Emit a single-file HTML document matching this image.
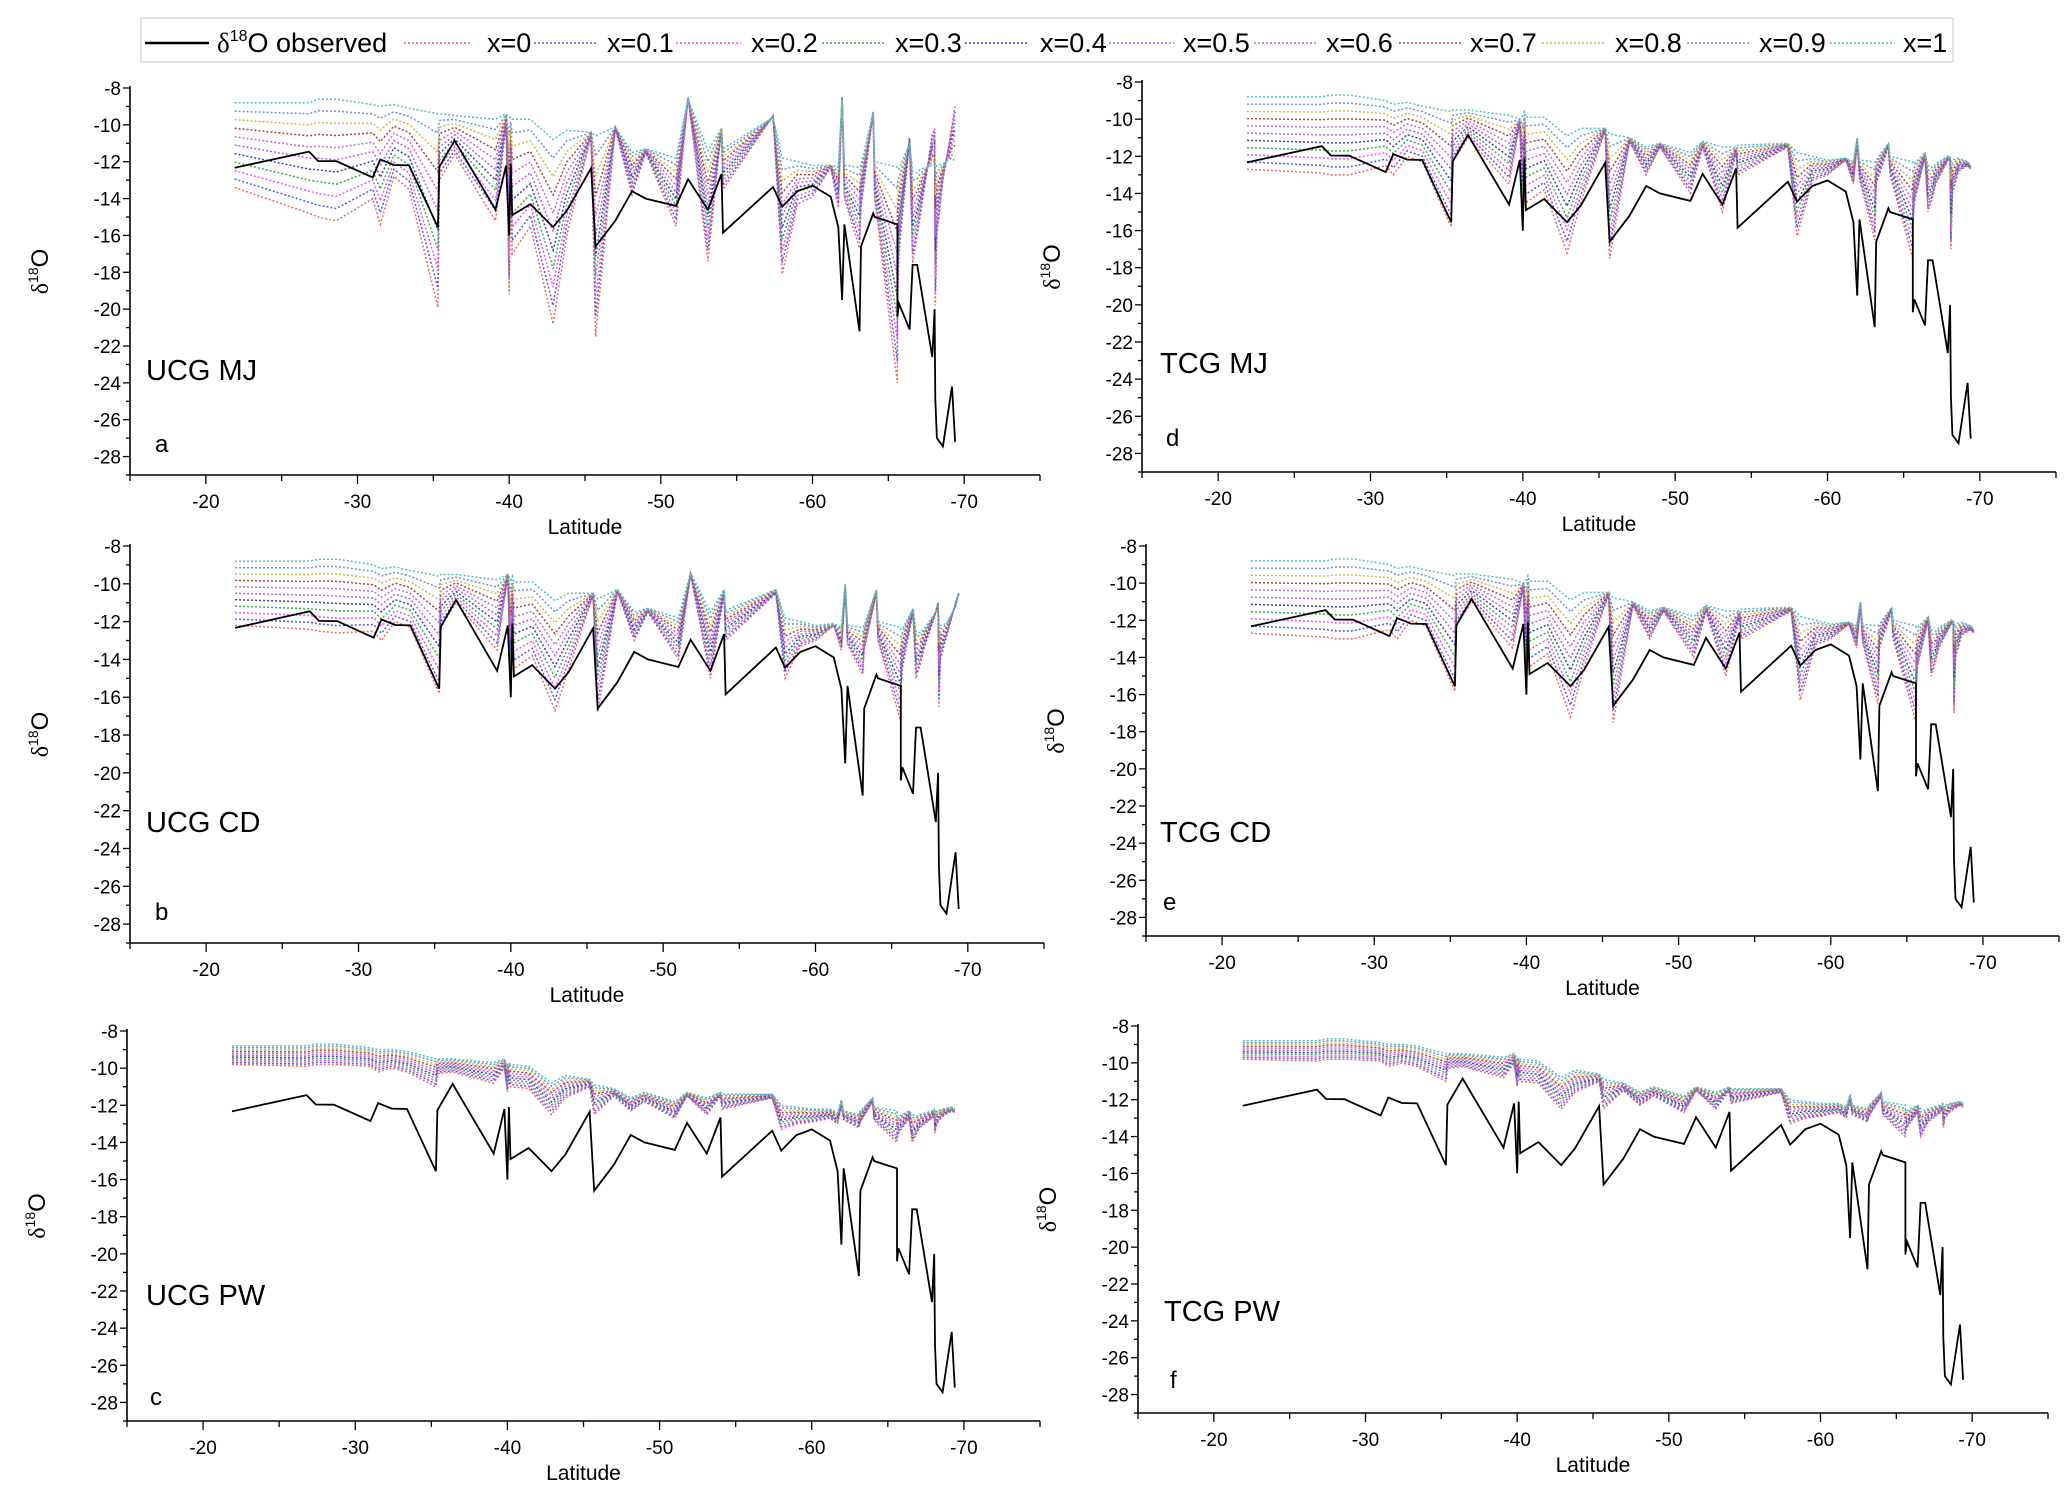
<!DOCTYPE html>
<html><head><meta charset="utf-8"><style>
html,body{margin:0;padding:0;background:#fff;}
svg{display:block;font-family:"Liberation Sans",Arial,sans-serif;}
</style></head><body>
<svg id="chart" width="2067" height="1492" viewBox="0 0 2067 1492" xmlns="http://www.w3.org/2000/svg">
<g id="legend">
<rect x="141" y="18" width="1812" height="44" fill="#fff" stroke="#d8d8d8" stroke-width="1.5"/>
</g>
<g id="panels"></g>
</svg>
<script>
// ---- data ----
const lats = [-21.9,-26.8,-27.4,-28.6,-31.0,-31.5,-32.4,-33.4,-35.3,-35.4,-36.4,-39.1,-39.8,-40.0,-40.1,-40.2,-41.4,-42.9,-43.8,-45.4,-45.7,-47.0,-48.1,-49.0,-51.0,-51.8,-53.1,-54.0,-54.1,-57.4,-58.0,-59.0,-60.0,-61.2,-61.7,-61.95,-62.1,-63.1,-63.2,-64.0,-64.1,-65.6,-65.6,-65.7,-66.4,-66.6,-66.9,-67.1,-67.9,-68.05,-68.1,-68.2,-68.6,-69.2,-69.4];
const observed = [-12.33,-11.45,-11.96,-11.97,-12.85,-11.88,-12.18,-12.2,-15.55,-12.27,-10.85,-14.6,-12.2,-16.0,-12.1,-14.9,-14.3,-15.55,-14.66,-12.35,-16.6,-15.2,-13.6,-14.0,-14.4,-12.95,-14.6,-12.66,-15.85,-13.37,-14.44,-13.6,-13.3,-13.9,-15.55,-19.5,-15.4,-21.2,-16.6,-14.8,-15.0,-15.4,-20.4,-19.7,-21.1,-17.6,-17.6,-18.6,-22.6,-20.0,-24.9,-27.0,-27.45,-24.2,-27.2];
const mjTop = [-8.8,-8.8,-8.6,-8.6,-8.9,-9.0,-8.9,-9.1,-9.4,-9.4,-9.5,-9.7,-9.4,-9.6,-9.6,-9.7,-9.7,-10.8,-10.3,-10.4,-10.6,-10.1,-11.5,-11.3,-11.8,-8.6,-11.4,-10.2,-11.3,-9.6,-11.8,-12.0,-12.2,-12.2,-12.3,-8.6,-12.2,-12.3,-12.2,-9.3,-12.0,-12.3,-12.4,-12.4,-11.0,-12.5,-12.6,-12.4,-12.2,-12.2,-12.3,-12.2,-12.1,-11.8,-12.0];
const mjBot = [-13.4,-14.8,-15.0,-15.2,-14.0,-15.4,-12.8,-13.5,-19.9,-13.0,-11.6,-15.2,-9.9,-19.2,-12.0,-17.0,-15.5,-20.8,-16.0,-10.6,-21.5,-10.2,-13.8,-11.5,-15.5,-8.5,-17.4,-10.2,-13.5,-9.5,-18.1,-14.3,-13.9,-12.3,-14.5,-8.5,-14.0,-16.7,-14.5,-9.3,-14.0,-24.0,-20.0,-17.0,-10.7,-17.5,-16.0,-15.0,-10.5,-10.2,-19.8,-16.0,-13.0,-10.0,-9.0];
const cdTop = [-8.8,-8.8,-8.7,-8.7,-9.0,-9.2,-9.1,-9.3,-9.6,-9.5,-9.5,-9.8,-9.5,-9.8,-9.6,-9.9,-9.9,-10.9,-10.5,-10.5,-10.8,-10.3,-11.5,-11.3,-11.8,-9.4,-11.5,-10.3,-11.4,-10.3,-11.8,-12.0,-12.2,-12.1,-12.3,-10.0,-12.2,-12.3,-12.2,-10.3,-12.0,-12.3,-12.4,-12.4,-11.3,-12.5,-12.6,-12.4,-11.5,-11.0,-12.3,-12.2,-12.1,-11.2,-10.5];
const cdBot = [-12.2,-12.4,-12.5,-12.6,-12.5,-13.0,-12.0,-12.3,-15.8,-12.3,-11.0,-13.5,-9.6,-16.0,-11.5,-14.5,-13.8,-16.7,-14.5,-10.6,-16.8,-10.4,-13.0,-11.5,-14.0,-9.5,-15.0,-10.5,-13.0,-10.5,-15.0,-13.3,-13.0,-12.2,-13.5,-10.2,-13.2,-14.8,-13.5,-10.5,-13.0,-17.3,-16.0,-14.5,-11.5,-15.0,-14.2,-13.5,-11.5,-11.0,-16.5,-14.0,-12.8,-11.0,-10.5];
const tcgTop = [-8.8,-8.8,-8.7,-8.7,-9.0,-9.2,-9.1,-9.3,-9.6,-9.5,-9.5,-9.8,-10.0,-9.8,-9.6,-9.9,-9.9,-10.9,-10.5,-10.5,-10.8,-11.0,-11.5,-11.3,-11.8,-11.2,-11.5,-11.5,-11.4,-11.3,-11.8,-12.0,-12.2,-12.1,-12.3,-11.0,-12.2,-12.3,-12.2,-11.3,-12.0,-12.3,-12.4,-12.4,-11.8,-12.5,-12.6,-12.4,-12.0,-12.0,-12.3,-12.2,-12.1,-12.3,-12.5];
const tcgBot = [-12.7,-12.9,-13.0,-13.0,-12.5,-13.0,-12.0,-12.3,-15.8,-12.3,-11.0,-13.5,-10.2,-16.0,-11.5,-14.5,-13.8,-17.2,-14.5,-10.6,-17.5,-11.2,-13.0,-11.5,-14.0,-11.5,-15.0,-11.8,-13.0,-11.5,-16.3,-13.3,-13.0,-12.2,-13.5,-11.2,-13.2,-16.5,-13.5,-11.5,-13.0,-17.5,-16.0,-14.5,-12.0,-15.0,-14.2,-13.5,-12.2,-12.2,-17.0,-14.0,-12.8,-12.5,-12.7];
const pwTop = [-8.8,-8.8,-8.7,-8.7,-8.9,-9.0,-9.0,-9.1,-9.5,-9.5,-9.5,-9.7,-9.5,-9.8,-9.7,-9.8,-9.9,-10.8,-10.4,-10.6,-10.9,-11.1,-11.6,-11.3,-11.8,-11.3,-11.6,-11.3,-11.4,-11.4,-12.0,-12.1,-12.2,-12.2,-12.4,-11.7,-12.3,-12.5,-12.3,-11.6,-12.1,-12.3,-12.6,-12.6,-12.3,-12.5,-12.6,-12.5,-12.3,-12.2,-12.4,-12.3,-12.2,-12.1,-12.2];
const pwBot = [-9.8,-9.9,-9.8,-9.8,-9.9,-10.2,-10.0,-10.2,-11.0,-10.3,-10.2,-10.8,-10.0,-11.3,-10.6,-11.0,-11.1,-12.5,-11.6,-11.0,-12.5,-11.5,-12.3,-11.8,-12.7,-11.5,-12.5,-11.5,-12.2,-11.6,-13.3,-13.0,-12.9,-12.7,-13.0,-12.0,-12.8,-13.2,-12.9,-11.8,-12.8,-14.0,-13.8,-13.5,-12.7,-14.0,-13.5,-13.2,-12.7,-12.5,-13.5,-13.0,-12.6,-12.3,-12.4];
const xFractions = [0,0.1,0.2,0.3,0.4,0.5,0.6,0.7,0.8,0.9,1];
const seriesLabels = ["x=0","x=0.1","x=0.2","x=0.3","x=0.4","x=0.5","x=0.6","x=0.7","x=0.8","x=0.9","x=1"];
const yTicks = [-8,-10,-12,-14,-16,-18,-20,-22,-24,-26,-28];
const xTicks = [-20,-30,-40,-50,-60,-70];
const panelNames = ["UCG MJ","UCG CD","UCG PW","TCG MJ","TCG CD","TCG PW"];
const panelLetters = ["a","b","c","d","e","f"];

// ---- styles / layout ----
const colors = ["#e86a6a","#5a5ae0","#ee55ee","#40a850","#4040b0","#b060f0","#c070c0","#b04040","#c0c050","#7090d8","#50c0c0"];
const legendLines = [[404,470,487],[534,597,607],[676,741,751],[822,885,895],[965,1028,1040],[1109,1174,1183],[1254,1318,1326],[1399,1462,1470],[1542,1606,1615],[1687,1750,1759],[1830,1895,1903]];
const panels = [
 {L:130,R:1040,T:88,B:475,top:mjTop,bot:mjBot,lx:146,ly:380,ax:155,ay:452},
 {L:130,R:1044,T:546,B:943,top:cdTop,bot:cdBot,lx:146,ly:832,ax:155,ay:920},
 {L:127,R:1040,T:1031,B:1421,top:pwTop,bot:pwBot,lx:146,ly:1305,ax:150,ay:1405},
 {L:1142,R:2056,T:82,B:472,top:tcgTop,bot:tcgBot,lx:1160,ly:373,ax:1166,ay:446},
 {L:1146,R:2059,T:546,B:936,top:tcgTop,bot:tcgBot,lx:1160,ly:842,ax:1163,ay:910},
 {L:1138,R:2048,T:1026,B:1413,top:pwTop,bot:pwBot,lx:1164,ly:1321,ax:1170,ay:1388}
];
const NS="http://www.w3.org/2000/svg";
function mk(tag,attrs,parent){const e=document.createElementNS(NS,tag);for(const k in attrs)e.setAttribute(k,attrs[k]);if(parent)parent.appendChild(e);return e;}

// legend
const leg=document.getElementById('legend');
let ln=mk('line',{x1:145,y1:43,x2:209,y2:43,stroke:'#000','stroke-width':2.5},leg);


let lt=mk('text',{x:217,y:52,'font-size':27},leg);


lt.innerHTML='<tspan font-family="Liberation Serif">δ</tspan><tspan font-size="16" dy="-11">18</tspan><tspan dy="11">O observed</tspan>';
for(let i=0;i<xFractions.length;i++){
  const p=legendLines[i];
  const l=mk('line',{x1:p[0],y1:43,x2:p[1],y2:43,stroke:colors[i],'stroke-width':1.6,'stroke-dasharray':'2,2'},leg);
  
  
  const t=mk('text',{x:p[2],y:52,'font-size':27},leg);
  
  
  t.textContent=seriesLabels[i];
}

const root=document.getElementById('panels');
panels.forEach((P,pi)=>{
  const g=mk('g',{},root);
  
  
  const xs=v=>P.L+(v-(-15))/(-75-(-15))*(P.R-P.L);
  const ys=v=>P.T+(-8-v)/(-8-(-29))*(P.B-P.T);
  for(let k=0;k<xFractions.length;k++){
    const f=xFractions[k];
    const pts=lats.map((la,i)=>xs(la).toFixed(1)+','+ys(P.bot[i]+(P.top[i]-P.bot[i])*f).toFixed(1)).join(' ');
    const pl=mk('polyline',{points:pts,fill:'none',stroke:colors[k],'stroke-width':1.5,'stroke-dasharray':'2,2'},g);
    
    
  }
  const opts=lats.map((la,i)=>xs(la).toFixed(1)+','+ys(observed[i]).toFixed(1)).join(' ');
  const ol=mk('polyline',{points:opts,fill:'none',stroke:'#000','stroke-width':1.8},g);
  
  
  const ya=mk('line',{x1:P.L,y1:ys(-8)-2,x2:P.L,y2:P.B,stroke:'#000','stroke-width':1.6},g);
  
  
  const xa=mk('line',{x1:P.L,y1:P.B,x2:P.R,y2:P.B,stroke:'#000','stroke-width':1.6},g);
  
  
  for(let v=-8;v>=-29;v--){
    const major=(v%2===0);
    mk('line',{x1:P.L-(major?7:4),y1:ys(v),x2:P.L,y2:ys(v),stroke:'#000','stroke-width':1.3},g);
  }
  yTicks.forEach(v=>{
    const t=mk('text',{x:P.L-9,y:ys(v)+7,'font-size':19,'text-anchor':'end'},g);
    
    
    t.textContent=v;
  });
  for(let v=-15;v>=-75;v-=5){
    const major=(v%10===0);
    mk('line',{x1:xs(v),y1:P.B,x2:xs(v),y2:P.B+(major?9:6),stroke:'#000','stroke-width':1.3},g);
  }
  xTicks.forEach(v=>{
    const t=mk('text',{x:xs(v),y:P.B+33,'font-size':19,'text-anchor':'middle'},g);
    
    
    t.textContent=v;
  });
  const xt=mk('text',{x:(P.L+P.R)/2,y:P.B+59,'font-size':21,'text-anchor':'middle'},g);
  
  
  xt.textContent='Latitude';
  const cy=(P.T+P.B)/2-10, cx=P.L-82;
  const yt=mk('text',{x:cx,y:cy,'font-size':24,'text-anchor':'middle',transform:'rotate(-90 '+cx+' '+cy+')'},g);
  
  
  yt.innerHTML='<tspan font-family="Liberation Serif">δ</tspan><tspan font-size="14" dy="-10">18</tspan><tspan dy="10">O</tspan>';
  const nm=mk('text',{x:P.lx,y:P.ly,'font-size':29},g);
  
  
  nm.textContent=panelNames[pi];
  const lt2=mk('text',{x:P.ax,y:P.ay,'font-size':24},g);
  
  
  lt2.textContent=panelLetters[pi];
});
</script>
</body></html>
